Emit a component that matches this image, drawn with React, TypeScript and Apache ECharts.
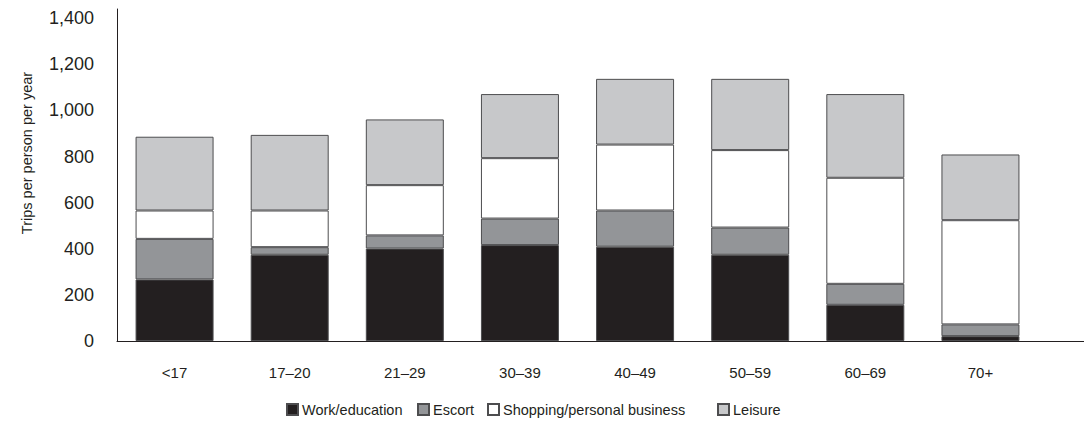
import React, { useEffect, useRef } from "react";
import * as echarts from "echarts";

const categories = ["<17", "17\u201320", "21\u201329", "30\u201339", "40\u201349", "50\u201359", "60\u201369", "70+"];
const work = [267, 374, 401, 416, 409, 374, 157, 21];
const escort = [176, 33, 57, 115, 157, 118, 91, 51];
const shopping = [123, 159, 218, 262, 286, 336, 460, 452];
const leisure = [320, 328, 285, 278, 285, 309, 363, 285];
const seriesNames = ["Work/education", "Escort", "Shopping/personal business", "Leisure"];
const seriesColors = ["#231f20", "#939598", "#ffffff", "#c7c8ca"];
const yTitle = "Trips per person per year";

const FONT = "'Liberation Sans', Arial, Helvetica, sans-serif";
const legendLefts = [286, 417, 487, 717];

export default function App() {
  const ref = useRef<HTMLDivElement>(null);
  useEffect(() => {
    if (!ref.current) return;
    const chart = echarts.init(ref.current, undefined, { renderer: "svg" });
    const data = [work, escort, shopping, leisure];
    chart.setOption({
      animation: false,
      textStyle: { fontFamily: FONT, color: "#231f20" },
      grid: { left: 117, right: 46, top: 9, bottom: 80 },
      legend: seriesNames.map((name, i) => ({
        left: legendLefts[i],
        top: 402,
        padding: 0,
        itemWidth: 11,
        itemHeight: 11,
        icon: "rect",
        textStyle: { fontFamily: FONT, fontSize: 14.5, color: "#231f20", padding: [0, 0, 0, -1] },
        data: [name],
      })),
      xAxis: {
        type: "category",
        data: categories,
        axisLine: { show: true, lineStyle: { color: "#231f20", width: 1 } },
        axisTick: { show: false },
        axisLabel: { fontFamily: FONT, fontSize: 15, color: "#231f20", margin: 24 },
      },
      yAxis: {
        type: "value",
        min: 0,
        max: 1440,
        interval: 200,
        axisLine: { show: true, lineStyle: { color: "#231f20", width: 1 } },
        axisTick: { show: false },
        splitLine: { show: false },
        axisLabel: {
          fontFamily: FONT,
          fontSize: 18,
          color: "#231f20",
          margin: 23,
          showMaxLabel: false,
          formatter: (v: number) => (v % 200 === 0 ? v.toLocaleString("en-US") : ""),
        },
      },
      graphic: [
        {
          type: "line",
          shape: { x1: 1036, y1: 341.5, x2: 1084, y2: 341.5 },
          style: { stroke: "#231f20", lineWidth: 1 },
          z: 10,
        },
        {
          type: "text",
          x: 27,
          y: 153,
          rotation: Math.PI / 2,
          style: {
            text: yTitle,
            fontFamily: FONT,
            fontSize: 14.5,
            fill: "#231f20",
            align: "center",
            verticalAlign: "middle",
          },
        },
      ],
      series: seriesNames.map((name, i) => ({
        name,
        type: "bar",
        stack: "total",
        barWidth: 78,
        data: data[i],
        itemStyle: { color: seriesColors[i], borderColor: "#4d4d4f", borderWidth: 1 },
      })),
    });
    return () => chart.dispose();
  }, []);
  return <div ref={ref} style={{ width: 1084, height: 421, position: "absolute", left: 0, top: 0 }} />;
}
